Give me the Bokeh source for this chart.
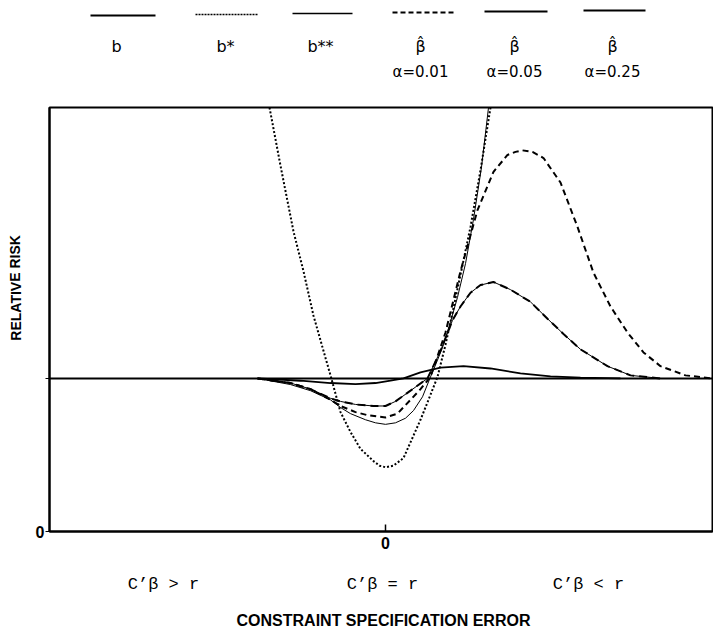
from bokeh.plotting import figure
from bokeh.models import Range1d, FixedTicker
from bokeh.layouts import column, row
from bokeh.embed import file_html
from bokeh.resources import INLINE
from bokeh.core.properties import value

# ---------------- data ----------------
b_x = [-3.36, 3.27]
b_y = [1.0, 1.0]

bstar_x = [-1.16, -1.05, -0.92, -0.82, -0.72, -0.62, -0.55, -0.45, -0.35, -0.25, -0.12, -0.06,
           0.0, 0.08, 0.18, 0.35, 0.43, 0.52, 0.60, 0.68, 0.77, 0.85, 0.95, 1.05]
bstar_y = [2.77, 2.39, 1.96, 1.70, 1.41, 1.18, 1.02, 0.78, 0.65, 0.54, 0.46, 0.43,
           0.42, 0.43, 0.48, 0.73, 0.86, 1.01, 1.22, 1.46, 1.74, 1.99, 2.36, 2.77]

bss_x = [-1.28, -0.95, -0.75, -0.55, -0.45, -0.35, -0.20, -0.10, 0.0, 0.10, 0.20, 0.28,
         0.37, 0.45, 0.52, 0.58, 0.65, 0.72, 0.80, 0.88, 0.96, 1.03]
bss_y = [1.00, 0.96, 0.92, 0.86, 0.81, 0.77, 0.73, 0.71, 0.70, 0.71, 0.74, 0.79,
         0.88, 1.01, 1.12, 1.22, 1.37, 1.53, 1.75, 2.04, 2.38, 2.77]

a01_x = [-1.28, -0.95, -0.75, -0.55, -0.45, -0.30, -0.18, 0.0, 0.12, 0.25, 0.35, 0.45,
         0.60, 0.75, 0.92, 1.08, 1.22, 1.30, 1.37, 1.47, 1.58, 1.75, 1.92, 2.08, 2.25,
         2.42, 2.58, 2.75, 3.00, 3.27]
a01_y = [1.00, 0.97, 0.93, 0.86, 0.82, 0.78, 0.76, 0.745, 0.77, 0.86, 0.93, 1.01,
         1.30, 1.70, 2.10, 2.35, 2.46, 2.48, 2.49, 2.48, 2.44, 2.28, 1.99, 1.69, 1.47,
         1.30, 1.17, 1.08, 1.02, 1.00]

a05_x = [-1.28, -0.95, -0.75, -0.55, -0.45, -0.30, -0.12, 0.0, 0.10, 0.25, 0.42, 0.55,
         0.67, 0.75, 0.85, 0.95, 1.08, 1.25, 1.45, 1.62, 1.78, 1.95, 2.22, 2.45, 2.75]
a05_y = [1.00, 0.97, 0.93, 0.87, 0.85, 0.83, 0.82, 0.82, 0.85, 0.92, 1.00, 1.18,
         1.38, 1.47, 1.56, 1.61, 1.63, 1.58, 1.50, 1.39, 1.29, 1.19, 1.08, 1.02, 1.00]

a25_x = [-1.28, -0.85, -0.55, -0.30, -0.10, 0.05, 0.18, 0.35, 0.55, 0.78, 1.05, 1.35,
         1.65, 1.95, 2.35]
a25_y = [1.00, 0.985, 0.97, 0.963, 0.97, 0.985, 1.00, 1.04, 1.07, 1.08, 1.065, 1.033,
         1.013, 1.005, 1.00]

legend_names = ["b", "b*", "b**", "\u03b2\u0302", "\u03b2\u0302", "\u03b2\u0302"]
legend_alphas = ["", "", "", "\u03b1=0.01", "\u03b1=0.05", "\u03b1=0.25"]
region_labels = ["C\u2019\u03b2 > r", "C\u2019\u03b2 = r", "C\u2019\u03b2 < r"]
x_title = "CONSTRAINT SPECIFICATION ERROR"
y_title = "RELATIVE RISK"

# ---------------- styles / layout positions (page pixels) ----------------
series = [
    (b_x, b_y, 2.0, "solid"),
    (bstar_x, bstar_y, 2.0, "2 2"),
    (bss_x, bss_y, 1.0, "solid"),
    (a01_x, a01_y, 2.0, "6 4"),
    (a05_x, a05_y, 1.0, "solid"),
    (a25_x, a25_y, 1.8, "solid"),
]
legend_w = [2.0, 1.5, 1.3, 2.0, 1.8, 1.8]
legend_dash = ["solid", "2 1", "solid", "5 3", "solid", "solid"]
legend_x0 = [90, 195, 292, 392, 484, 583]
legend_x1 = [155, 258, 352, 454, 547, 645]
legend_ly = [15, 14, 13, 12, 11, 10]
legend_tx = [116, 225, 320, 420, 514, 612]
region_px = [163, 382, 588]
sans = value("DejaVu Sans")
bold_font = value("Liberation Sans")

W = 713
LEFT = 30

# ---------------- legend strip ----------------
leg = figure(width=W, height=98, x_range=Range1d(0, W), y_range=Range1d(98, 0),
             x_axis_type=None, y_axis_type=None, output_backend="svg",
             toolbar_location=None, min_border=0, outline_line_color=None)
leg.xgrid.visible = False
leg.ygrid.visible = False
for i in range(6):
    leg.segment(x0=[legend_x0[i]], y0=[legend_ly[i]], x1=[legend_x1[i]], y1=[legend_ly[i]],
                line_color="black", line_width=legend_w[i], line_dash=legend_dash[i])
leg.text(x=legend_tx, y=[46] * 6, text=legend_names, text_font=sans,
         text_font_size="16px", text_align="center", text_baseline="middle", text_color="black")
leg.text(x=legend_tx, y=[71] * 6, text=legend_alphas, text_font=sans,
         text_font_size="15px", text_align="center", text_baseline="middle", text_color="black")

# ---------------- left strip (y title) ----------------
left = figure(width=LEFT, height=463, x_range=Range1d(0, LEFT), y_range=Range1d(561, 98),
              x_axis_type=None, y_axis_type=None, output_backend="svg",
              toolbar_location=None, min_border=0, outline_line_color=None)
left.xgrid.visible = False
left.ygrid.visible = False
left.text(x=[15], y=[295], text=[y_title], angle=1.5708, text_font=bold_font,
          text_font_style="bold", text_font_size="14px", text_align="center",
          text_baseline="middle", text_color="black")

# ---------------- main plot ----------------
p = figure(width=W - LEFT, height=463, x_range=Range1d(-3.36, 3.27), y_range=Range1d(0, 2.77),
           output_backend="svg", toolbar_location=None,
           min_border_left=19, min_border_right=1, min_border_top=9, min_border_bottom=30,
           outline_line_color="black", outline_line_width=2, background_fill_color="white",
           border_fill_color="white")
p.xgrid.visible = False
p.ygrid.visible = False

p.xaxis.ticker = FixedTicker(ticks=[0])
p.xaxis.major_label_overrides = {0: "0"}
p.xaxis.major_tick_in = 7
p.xaxis.major_tick_out = 0
p.xaxis.minor_tick_line_color = None
p.xaxis.axis_line_width = 2
p.xaxis.major_tick_line_width = 1.5
p.xaxis.major_label_text_font = "Liberation Sans"
p.xaxis.major_label_text_font_style = "bold"
p.xaxis.major_label_text_font_size = "16px"
p.xaxis.major_label_text_color = "black"
p.xaxis.major_label_standoff = 5

p.yaxis.ticker = FixedTicker(ticks=[0, 1])
p.yaxis.major_label_overrides = {0: "0", 1: ""}
p.yaxis.major_tick_in = 0
p.yaxis.major_tick_out = 4
p.yaxis.minor_tick_line_color = None
p.yaxis.axis_line_width = 2
p.yaxis.major_label_standoff = 1
p.yaxis.major_label_text_font = "Liberation Sans"
p.yaxis.major_label_text_font_style = "bold"
p.yaxis.major_label_text_font_size = "16px"
p.yaxis.major_label_text_color = "black"

for sx, sy, lw, dash in series:
    p.line(sx, sy, line_color="black", line_width=lw, line_dash=dash)
# the alpha=0.05 curve is printed as a thin line with heavier dashes on it
p.line(a05_x, a05_y, line_color="black", line_width=2.0, line_dash="8 5")

# ---------------- bottom strip (region labels, x title) ----------------
bot = figure(width=W, height=73, x_range=Range1d(0, W), y_range=Range1d(73, 0),
             x_axis_type=None, y_axis_type=None, output_backend="svg",
             toolbar_location=None, min_border=0, outline_line_color=None)
bot.xgrid.visible = False
bot.ygrid.visible = False
bot.text(x=region_px, y=[23] * 3, text=region_labels, text_font=value("Liberation Mono"),
         text_font_size="17px", text_align="center", text_baseline="middle", text_color="black")
bot.text(x=[383], y=[59], text=[x_title], text_font=bold_font, text_font_style="bold",
         text_font_size="16px", text_align="center", text_baseline="middle", text_color="black")

layout = column(leg, row(left, p, spacing=0), bot, spacing=0)
open("out.html", "w").write(file_html(layout, INLINE))
